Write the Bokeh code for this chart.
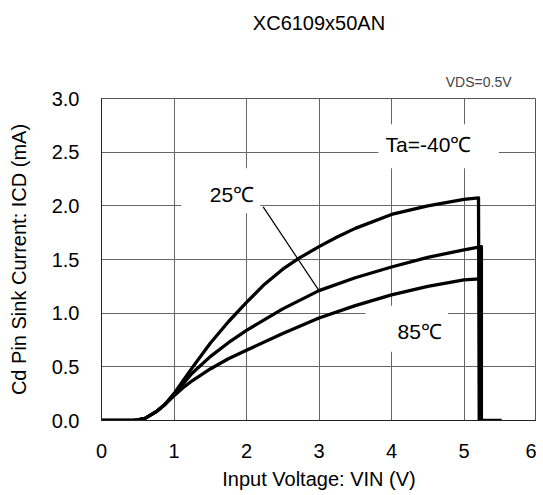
from bokeh.plotting import figure
from bokeh.models import Range1d, Label, FixedTicker, NumeralTickFormatter, Title, LinearAxis
from bokeh.embed import file_html
from bokeh.resources import INLINE

# ---- data ----
title_text = "XC6109x50AN"
x_label = "Input Voltage: VIN (V)"
y_label = "Cd Pin Sink Current: ICD (mA)"
condition_text = "VDS=0.5V"

x_ticks = [0, 1, 2, 3, 4, 5, 6]
y_ticks = [0.0, 0.5, 1.0, 1.5, 2.0, 2.5, 3.0]

# Ta = -40 C
vin_m40 = [0.0, 0.44, 0.5, 0.6, 0.75, 0.875, 1.0, 1.125, 1.25, 1.5, 1.75, 2.0, 2.25, 2.5, 2.72, 3.0, 3.25, 3.5, 4.0, 4.5, 5.0, 5.2, 5.21, 5.52]
icd_m40 = [0.0, 0.0, 0.005, 0.02, 0.08, 0.15, 0.25, 0.37, 0.49, 0.72, 0.92, 1.10, 1.27, 1.41, 1.51, 1.62, 1.71, 1.79, 1.92, 2.00, 2.06, 2.075, 0.0, 0.0]
# Ta = 25 C
vin_25 = [0.0, 0.44, 0.5, 0.6, 0.75, 0.875, 1.0, 1.125, 1.25, 1.5, 1.75, 2.0, 2.5, 3.0, 3.5, 4.0, 4.5, 5.0, 5.24, 5.24]
icd_25 = [0.0, 0.0, 0.005, 0.02, 0.08, 0.15, 0.24, 0.34, 0.44, 0.595, 0.725, 0.84, 1.04, 1.21, 1.33, 1.43, 1.52, 1.59, 1.62, 0.0]
# Ta = 85 C
vin_85 = [0.0, 0.44, 0.5, 0.6, 0.75, 0.875, 1.0, 1.125, 1.25, 1.5, 1.75, 2.0, 2.5, 3.0, 3.5, 4.0, 4.5, 5.0, 5.22, 5.22]
icd_85 = [0.0, 0.0, 0.005, 0.02, 0.08, 0.15, 0.23, 0.305, 0.37, 0.48, 0.575, 0.655, 0.81, 0.955, 1.07, 1.17, 1.25, 1.31, 1.32, 0.0]

# curve labels: text, centre x, centre y, and white box (left, right, bottom, top)
label_texts = ["Ta=-40℃", "25℃", "85℃"]
label_x = [4.51, 1.80, 4.39]
label_y = [2.57, 2.11, 0.83]
box_left = [3.82, 1.10, 3.64]
box_right = [5.48, 2.19, 4.78]
box_bottom = [2.35, 1.93, 0.64]
box_top = [2.76, 2.35, 1.07]

leader_x = [2.23, 3.0]
leader_y = [1.99, 1.21]

FONT = "Liberation Sans"

p = figure(width=536, height=494,
           x_range=Range1d(0, 6), y_range=Range1d(0, 3),
           output_backend="svg", toolbar_location=None,
           min_border_left=101, min_border_right=0,
           min_border_top=98, min_border_bottom=74)
p.background_fill_color = "white"
p.border_fill_color = "white"
p.outline_line_color = "#555555"
p.outline_line_width = 1

p.xaxis.ticker = FixedTicker(ticks=x_ticks)
p.yaxis.ticker = FixedTicker(ticks=y_ticks)
p.yaxis.formatter = NumeralTickFormatter(format="0.0")
p.xaxis.formatter = NumeralTickFormatter(format="0")

for ax in (p.xaxis, p.yaxis):
    ax.major_tick_out = 0
    ax.major_tick_in = 0
    ax.minor_tick_out = 0
    ax.minor_tick_in = 0
    ax.axis_line_color = "#222222"
    ax.axis_line_width = 1
    ax.major_label_text_font = FONT
    ax.major_label_text_font_size = "20px"
    ax.major_label_text_color = "black"
    ax.axis_label_text_font = FONT
    ax.axis_label_text_font_size = "20px"
    ax.axis_label_text_font_style = "normal"
    ax.axis_label_text_color = "black"

p.xaxis.axis_label = x_label
p.yaxis.axis_label = y_label
p.xaxis.major_label_standoff = 23
p.yaxis.major_label_standoff = 22
p.xaxis.axis_label_standoff = 7
p.yaxis.axis_label_standoff = 19

p.xgrid.grid_line_color = "#666666"
p.ygrid.grid_line_color = "#666666"
p.xgrid.grid_line_width = 1
p.ygrid.grid_line_width = 1

# test condition, right above the frame
p.add_layout(Title(text=condition_text, align="right", offset=25,
                   text_font=FONT, text_font_size="14px",
                   text_font_style="normal", standoff=16,
                   vertical_align="middle"), "above")

# chart title: carried by a bare axis above, so it can sit higher
title_axis = LinearAxis(ticker=FixedTicker(ticks=[]), bounds=(0.0, 5.62),
                        axis_line_color=None, major_tick_out=0, major_tick_in=0,
                        minor_tick_out=0, minor_tick_in=0,
                        major_label_text_font_size="0px",
                        axis_label=title_text, axis_label_standoff=31,
                        axis_label_text_font=FONT, axis_label_text_font_size="20px",
                        axis_label_text_font_style="normal",
                        axis_label_text_color="black")
p.add_layout(title_axis, "above")

# white boxes behind curve labels (cover grid lines)
p.quad(left=box_left, right=box_right, bottom=box_bottom, top=box_top,
       fill_color="white", line_color=None)

# leader line for 25C
p.line(leader_x, leader_y, line_color="black", line_width=1.2)

for xs, ys in ((vin_m40, icd_m40), (vin_25, icd_25), (vin_85, icd_85)):
    p.line(xs, ys, line_color="black", line_width=3.3, line_join="round")

for t, lx, ly in zip(label_texts, label_x, label_y):
    p.add_layout(Label(x=lx, y=ly, text=t, text_align="center",
                       text_baseline="middle", text_font=FONT,
                       text_font_size="21px", text_color="black"))

open("out.html", "w").write(file_html(p, INLINE))
